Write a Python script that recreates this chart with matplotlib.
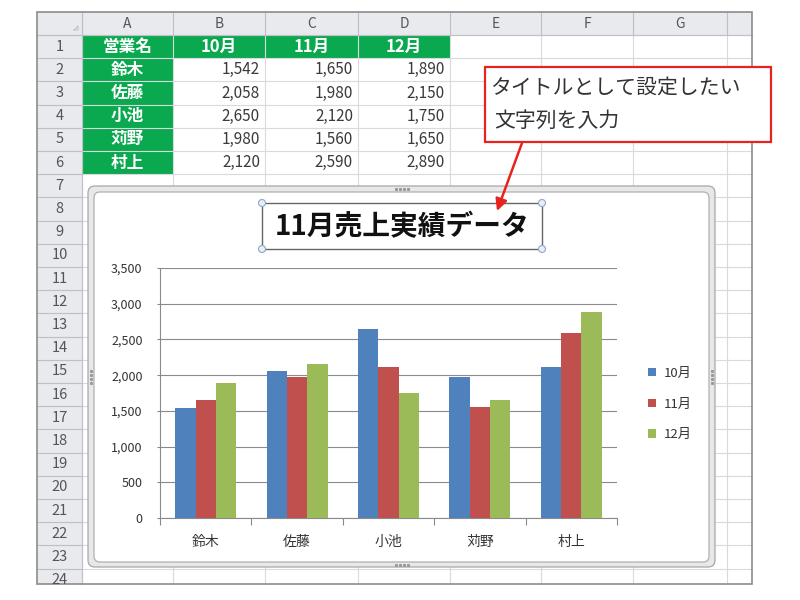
import matplotlib
matplotlib.use("Agg")
import matplotlib.pyplot as plt
from matplotlib.patches import Rectangle, FancyBboxPatch, Circle
import numpy as np

plt.rcParams['font.family'] = ['Noto Sans CJK JP', 'DejaVu Sans']

# ---------------- data ----------------
names = ['鈴木', '佐藤', '小池', '苅野', '村上']
months = ['10月', '11月', '12月']
oct_vals = [1542, 2058, 2650, 1980, 2120]
nov_vals = [1650, 1980, 2120, 1560, 2590]
dec_vals = [1890, 2150, 1750, 1650, 2890]
header_name = '営業名'
col_letters = ['A', 'B', 'C', 'D', 'E', 'F', 'G']
row_numbers = list(range(1, 25))
y_ticks = [0, 500, 1000, 1500, 2000, 2500, 3000, 3500]
chart_title = '11月売上実績データ'
callout_lines = ['タイトルとして設定したい', '文字列を入力']

series = [oct_vals, nov_vals, dec_vals]
colors = ['#4f81bd', '#c0504d', '#9bbb59']

W, H = 800, 600
fig = plt.figure(figsize=(8, 6), dpi=100)
fig.patch.set_facecolor('white')

# ---------------- spreadsheet background ----------------
bg = fig.add_axes([0, 0, 1, 1], zorder=0)
bg.set_xlim(0, W)
bg.set_ylim(H, 0)
bg.axis('off')

sheet_l, sheet_r, sheet_t, sheet_b = 37, 752, 12, 584
col_edges = [82, 173, 265, 358, 450, 541, 633, 727, 752]
head_b = 35
row_h = 23.2
row_tops = [head_b + i * row_h for i in range(len(row_numbers) + 1)]

# header backgrounds
bg.add_patch(Rectangle((sheet_l, sheet_t), sheet_r - sheet_l, head_b - sheet_t,
                       facecolor='#e8eaee', edgecolor='none', zorder=1))
bg.add_patch(Rectangle((sheet_l, head_b), col_edges[0] - sheet_l, sheet_b - head_b,
                       facecolor='#e8eaee', edgecolor='none', zorder=1))

# green cells
green = '#0aa84f'
for c in range(4):
    bg.add_patch(Rectangle((col_edges[c], row_tops[0]), col_edges[c + 1] - col_edges[c], row_h,
                           facecolor=green, edgecolor='none', zorder=2))
for r in range(1, 6):
    bg.add_patch(Rectangle((col_edges[0], row_tops[r]), col_edges[1] - col_edges[0], row_h,
                           facecolor=green, edgecolor='none', zorder=2))

# grid lines
for x in col_edges[:-1]:
    bg.plot([x, x], [sheet_t, sheet_b], color='#d8dadd', lw=0.8, zorder=3)
for y in row_tops:
    if y < sheet_b:
        bg.plot([sheet_l, sheet_r], [y, y], color='#d8dadd', lw=0.8, zorder=3)
# header separators darker
for x in col_edges[:-1]:
    bg.plot([x, x], [sheet_t, head_b], color='#bcc0c8', lw=0.8, zorder=3)
for y in row_tops:
    if y < sheet_b:
        bg.plot([sheet_l, col_edges[0]], [y, y], color='#bcc0c8', lw=0.8, zorder=3)
bg.plot([sheet_l, sheet_r], [head_b, head_b], color='#bcc0c8', lw=0.8, zorder=3)
bg.plot([col_edges[0], col_edges[0]], [sheet_t, sheet_b], color='#bcc0c8', lw=0.8, zorder=3)
# outer border
bg.add_patch(Rectangle((sheet_l, sheet_t), sheet_r - sheet_l, sheet_b - sheet_t,
                       facecolor='none', edgecolor='#8c8c8c', lw=1.2, zorder=4))
# corner triangle
bg.plot([74, 78, 78, 74], [30, 30, 26, 30], color='#c0c4cc', lw=0.8, zorder=4)

# column letters
for i, L in enumerate(col_letters):
    bg.text((col_edges[i] + col_edges[i + 1]) / 2, (sheet_t + head_b) / 2 + 1, L,
            ha='center', va='center', fontsize=10, color='#555555', zorder=5)
# row numbers
for i, n in enumerate(row_numbers):
    yc = row_tops[i] + row_h / 2
    if yc < sheet_b:
        bg.text((sheet_l + col_edges[0]) / 2, yc, str(n), ha='center', va='center',
                fontsize=10.5, color='#555555', zorder=5)

# table content
hdr = [header_name] + months
for c, t in enumerate(hdr):
    bg.text((col_edges[c] + col_edges[c + 1]) / 2, row_tops[0] + row_h / 2, t,
            ha='center', va='center', fontsize=12, color='white', fontweight='bold', zorder=5)
for r, nm in enumerate(names):
    yc = row_tops[r + 1] + row_h / 2
    bg.text((col_edges[0] + col_edges[1]) / 2, yc, nm, ha='center', va='center',
            fontsize=12, color='white', fontweight='bold', zorder=5)
    for c, vals in enumerate(series):
        bg.text(col_edges[c + 2] - 5, yc, f"{vals[r]:,}", ha='right', va='center',
                fontsize=11, color='#3a3a3a', zorder=5)

# chart frame (selected chart)
frame = FancyBboxPatch((88, 186), 715 - 88, 567 - 186, boxstyle='round,pad=0,rounding_size=7',
                       facecolor='#e8e8e8', edgecolor='#a8a8a8', lw=0.9, zorder=6)
bg.add_patch(frame)
inner = FancyBboxPatch((94, 192), 709 - 94, 562 - 192, boxstyle='round,pad=0,rounding_size=6',
                       facecolor='white', edgecolor='#b0b0b0', lw=0.9, zorder=7)
bg.add_patch(inner)
# frame grip dots
for dx in (-6, -2, 2, 6):
    bg.plot(402 + dx, 189, 's', ms=1.2, color='#9a9a9a', zorder=8)
    bg.plot(402 + dx, 564.5, 's', ms=1.2, color='#9a9a9a', zorder=8)
for dy in (-6, -2, 2, 6):
    bg.plot(91, 377 + dy, 's', ms=1.2, color='#9a9a9a', zorder=8)
    bg.plot(712, 377 + dy, 's', ms=1.2, color='#9a9a9a', zorder=8)

# ---------------- chart ----------------
ax = fig.add_axes([160 / W, 1 - 518 / H, 457 / W, 250 / H], zorder=1)
ax.set_facecolor('none')
n = len(names)
x = np.arange(n) + 0.5
bw = 1 / 4.5
for k, (vals, col, lab) in enumerate(zip(series, colors, months)):
    ax.bar(x + (k - 1) * bw, vals, width=bw, color=col, label=lab, zorder=3, linewidth=0)
ax.set_xlim(0, n)
ax.set_ylim(0, 3500)
ax.set_yticks(y_ticks)
ax.set_yticklabels([f"{v:,}" for v in y_ticks])
ax.set_xticks(np.arange(n + 1))
ax.set_xticklabels([])
ax.set_xticks(x, minor=True)
ax.set_xticklabels(names, minor=True)
ax.tick_params(axis='x', which='major', length=5, color='#8a8a8a', width=0.8)
ax.tick_params(axis='x', which='minor', length=0, pad=12, labelsize=10, labelcolor='#333333')
ax.tick_params(axis='y', length=2.5, color='#8a8a8a', width=0.8, labelsize=9,
               labelcolor='#333333', pad=10)
ax.grid(axis='y', color='#8a8a8a', lw=0.8, zorder=1)
for s in ('top', 'right'):
    ax.spines[s].set_visible(False)
for s in ('left', 'bottom'):
    ax.spines[s].set_color('#8a8a8a')
    ax.spines[s].set_linewidth(0.8)
leg = ax.legend(loc='center left', bbox_to_anchor=(636 / W, 1 - 404 / H),
                bbox_transform=fig.transFigure, frameon=False, fontsize=9.5,
                handlelength=0.6, handleheight=0.6, handletextpad=0.6, labelspacing=1.35)
for t in leg.get_texts():
    t.set_color('#333333')

# ---------------- overlay: title box, callout, arrow ----------------
ov = fig.add_axes([0, 0, 1, 1], zorder=2)
ov.set_facecolor('none')
ov.set_xlim(0, W)
ov.set_ylim(H, 0)
ov.axis('off')

ov.add_patch(Rectangle((262, 203), 542 - 262, 249 - 203, facecolor='white',
                       edgecolor='#666666', lw=1.0, zorder=2))
ov.text(402, 227, chart_title, ha='center', va='center', fontsize=20,
        fontweight='bold', color='#111111', zorder=3)
for (hx, hy) in [(262, 203), (542, 203), (262, 249), (542, 249)]:
    ov.add_patch(Circle((hx, hy), 3.5, facecolor='#e8eef6', edgecolor='#8fa8c8', lw=0.8, zorder=4))

ov.add_patch(Rectangle((485, 67), 771 - 485, 142 - 67, facecolor='white',
                       edgecolor='#e8231e', lw=1.6, zorder=2))
ov.text(490, 88, callout_lines[0], ha='left', va='center', fontsize=15,
        color='#333333', zorder=3)
ov.text(494, 121, callout_lines[1], ha='left', va='center', fontsize=15,
        color='#333333', zorder=3)
ov.annotate('', xy=(497, 211), xytext=(522, 143),
            arrowprops=dict(arrowstyle='-|>,head_length=0.7,head_width=0.35',
                            color='#e8231e', lw=1.8, shrinkA=0, shrinkB=0), zorder=5)

fig.savefig('out.png', dpi=100, facecolor='white')
